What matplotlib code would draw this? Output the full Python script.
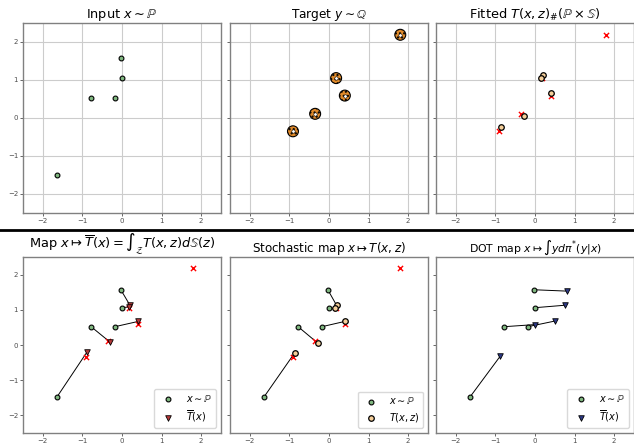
import numpy as np
import matplotlib.pyplot as plt
from matplotlib.lines import Line2D

# input samples x ~ P
x_in = np.array([[-1.65, -1.49], [-0.78, 0.52], [-0.18, 0.52], [-0.03, 1.57], [0.0, 1.06]])
# target samples y ~ Q
y_tg = np.array([[-0.91, -0.35], [-0.35, 0.11], [0.18, 1.05], [0.40, 0.59], [1.80, 2.19]])
# fitted stochastic map T(x, z), one per input
t_xz = np.array([[-0.87, -0.23], [-0.29, 0.06], [0.40, 0.67], [0.19, 1.13], [0.14, 1.06]])
# conditional mean map T_bar(x)
t_bar = np.array([[-0.89, -0.21], [-0.30, 0.08], [0.41, 0.67], [0.19, 1.15], [0.17, 1.08]])
# DOT barycentric map
t_dot = np.array([[-0.88, -0.32], [0.00, 0.58], [0.50, 0.68], [0.82, 1.53], [0.76, 1.13]])

ticks = [-2, -1, 0, 1, 2]
green = '#80b880'

fig = plt.figure(figsize=(6.34, 4.44), dpi=100)

W, H = 634, 444
lefts = [23, 230, 436]
top_axes = [fig.add_axes([l / W, 1 - 213 / H, 198 / W, 190 / H]) for l in lefts]
bot_axes = [fig.add_axes([l / W, 1 - 433 / H, 198 / W, 176 / H]) for l in lefts]


def style(ax, ylabels, grid):
    ax.set_xlim(-2.5, 2.5)
    ax.set_ylim(-2.5, 2.5)
    ax.set_xticks(ticks)
    ax.set_yticks(ticks)
    ax.tick_params(labelsize=5, length=2, width=0.6, colors='0.3', pad=1.5)
    if not ylabels:
        ax.set_yticklabels([])
    for s in ax.spines.values():
        s.set_color('0.5')
        s.set_linewidth(1.0)
    if grid:
        ax.grid(True, color='0.8', lw=0.8)
        ax.set_axisbelow(True)


for i, ax in enumerate(top_axes):
    style(ax, i == 0, True)
for i, ax in enumerate(bot_axes):
    style(ax, i == 0, False)

# --- top row
ax = top_axes[0]
ax.scatter(x_in[:, 0], x_in[:, 1], s=12, c=green, edgecolors='black', linewidths=0.8, zorder=3)
ax.set_title(r'Input $x\sim\mathbb{P}$', fontsize=9.3, pad=3)

ax = top_axes[1]
ax.scatter(y_tg[:, 0], y_tg[:, 1], s=62, c='#e08a2a', edgecolors='black', linewidths=0.8,
           hatch='....', zorder=3)
ax.scatter(y_tg[:, 0], y_tg[:, 1], s=6, c='white', edgecolors='black', linewidths=0.4, zorder=4)
ax.set_title(r'Target $y\sim\mathbb{Q}$', fontsize=8.7, pad=3)

ax = top_axes[2]
ax.scatter(y_tg[:, 0], y_tg[:, 1], s=14, c='red', marker='x', linewidths=1.0, zorder=3)
ax.scatter(t_xz[:, 0], t_xz[:, 1], s=16, c='#f5cf9a', edgecolors='black', linewidths=0.9, zorder=4)
ax.set_title(r'Fitted $T(x,z)_{\#}(\mathbb{P}\times\mathbb{S})$', fontsize=9.3, pad=3)

# --- bottom row
ax = bot_axes[0]
for a, b in zip(x_in, t_bar):
    ax.plot([a[0], b[0]], [a[1], b[1]], color='black', lw=0.7, zorder=2)
ax.scatter(y_tg[:, 0], y_tg[:, 1], s=14, c='red', marker='x', linewidths=1.0, zorder=3)
ax.scatter(x_in[:, 0], x_in[:, 1], s=12, c=green, edgecolors='black', linewidths=0.8, zorder=4,
           label=r'$x\sim\mathbb{P}$')
ax.scatter(t_bar[:, 0], t_bar[:, 1], s=16, c='#b83a3a', marker='v', edgecolors='black',
           linewidths=0.6, zorder=4, label=r'$\overline{T}(x)$')
ax.legend(loc='lower right', fontsize=7, framealpha=1, edgecolor='0.85')
ax.set_title(r'Map $x\mapsto\overline{T}(x)=\int_{\mathcal{Z}}T(x,z)d\mathbb{S}(z)$', fontsize=9.4, pad=3)

ax = bot_axes[1]
for a, b in zip(x_in, t_xz):
    ax.plot([a[0], b[0]], [a[1], b[1]], color='black', lw=0.7, zorder=2)
ax.scatter(y_tg[:, 0], y_tg[:, 1], s=14, c='red', marker='x', linewidths=1.0, zorder=3)
ax.scatter(x_in[:, 0], x_in[:, 1], s=12, c=green, edgecolors='black', linewidths=0.8, zorder=4,
           label=r'$x\sim\mathbb{P}$')
ax.scatter(t_xz[:, 0], t_xz[:, 1], s=16, c='#f5cf9a', edgecolors='black', linewidths=0.9,
           zorder=4, label=r'$T(x,z)$')
ax.legend(loc='lower right', fontsize=7, framealpha=1, edgecolor='0.85')
ax.set_title(r'Stochastic map $x\mapsto T(x,z)$', fontsize=8.6, pad=3)

ax = bot_axes[2]
for a, b in zip(x_in, t_dot):
    ax.plot([a[0], b[0]], [a[1], b[1]], color='black', lw=0.7, zorder=2)
ax.scatter(x_in[:, 0], x_in[:, 1], s=12, c=green, edgecolors='black', linewidths=0.8, zorder=4,
           label=r'$x\sim\mathbb{P}$')
ax.scatter(t_dot[:, 0], t_dot[:, 1], s=16, c='#2d3a86', marker='v', edgecolors='black',
           linewidths=0.6, zorder=4, label=r'$\overline{T}(x)$')
ax.legend(loc='lower right', fontsize=7, framealpha=1, edgecolor='0.85')
ax.set_title(r'DOT map $x\mapsto\int y d\pi^{*}(y|x)$', fontsize=7.8, pad=3)

# separator between the two rows
fig.add_artist(Line2D([0, 1], [1 - 230 / H, 1 - 230 / H], transform=fig.transFigure,
                      color='black', lw=2))

fig.savefig('out.png', dpi=100)
